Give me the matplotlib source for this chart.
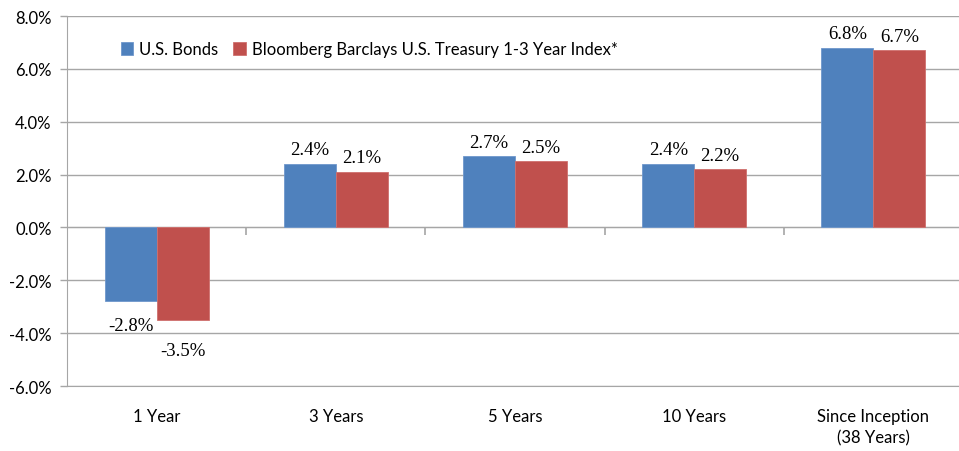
import numpy as np
import matplotlib.pyplot as plt

categories = ["1 Year", "3 Years", "5 Years", "10 Years", "Since Inception\n(38 Years)"]
us_bonds = [-2.8, 2.4, 2.7, 2.4, 6.8]
treasury = [-3.5, 2.1, 2.5, 2.2, 6.7]
series_names = ["U.S. Bonds", "Bloomberg Barclays U.S. Treasury 1-3 Year Index*"]

BLUE = "#4F81BD"
RED = "#C0504D"
GRID = "#A6A6A6"
SANS = "Lato"
SERIF = "Liberation Serif"

fig = plt.figure(figsize=(9.59, 4.52), dpi=100)
ax = fig.add_axes([67 / 959, 1 - 387 / 452, 896 / 959, 370 / 452])

x = np.arange(len(categories))
w = 0.29
b1 = ax.bar(x - w / 2, us_bonds, w, color=BLUE, edgecolor="#6f97cc", linewidth=0.6,
            label=series_names[0], zorder=3)
b2 = ax.bar(x + w / 2, treasury, w, color=RED, edgecolor="#cf706d", linewidth=0.6,
            label=series_names[1], zorder=3)

# data labels, Excel style
for bars, vals, neg_off in [(b1, us_bonds, 11), (b2, treasury, 16)]:
    for rect, v in zip(bars, vals):
        cx = rect.get_x() + rect.get_width() / 2
        if v >= 0:
            ax.annotate(f"{v:.1f}%", (cx, v), xytext=(0, 4), textcoords="offset points",
                        ha="center", va="bottom", fontsize=13.5, family=SERIF)
        else:
            ax.annotate(f"{v:.1f}%", (cx, v), xytext=(0, -neg_off), textcoords="offset points",
                        ha="center", va="top", fontsize=13.5, family=SERIF)

ax.set_xlim(-0.5, len(categories) - 0.5)
ax.set_ylim(-6, 8)
ax.set_yticks(np.arange(-6, 8.1, 2))
ax.set_yticklabels([f"{t:.1f}%" for t in np.arange(-6, 8.1, 2)], family=SANS, fontsize=12)
ax.set_xticks(x)
ax.set_xticklabels(categories, family=SANS, fontsize=12, linespacing=1.35)
ax.tick_params(axis="x", length=0, pad=16)
ax.tick_params(axis="y", length=5, color=GRID, width=1, pad=6)

ax.grid(axis="y", color=GRID, linewidth=1, zorder=0)
for s in ["top", "right"]:
    ax.spines[s].set_visible(False)
ax.spines["left"].set_color(GRID)
ax.spines["bottom"].set_color(GRID)

# category divider ticks on the zero line
sec = ax.secondary_xaxis(6 / 14)
sec.set_xticks(x[:-1] + 0.5)
sec.set_xticklabels([])
sec.tick_params(axis="x", length=6, color=GRID, width=1.2)
sec.spines["bottom"].set_color(GRID)

ax.legend(loc="center left", bbox_to_anchor=(0.06, 0.91), frameon=False, ncol=2,
          prop={"family": SANS, "size": 12}, handlelength=0.75, handleheight=0.75,
          handletextpad=0.35, columnspacing=0.9, borderpad=0, borderaxespad=0)

fig.savefig("out.png", dpi=100)
